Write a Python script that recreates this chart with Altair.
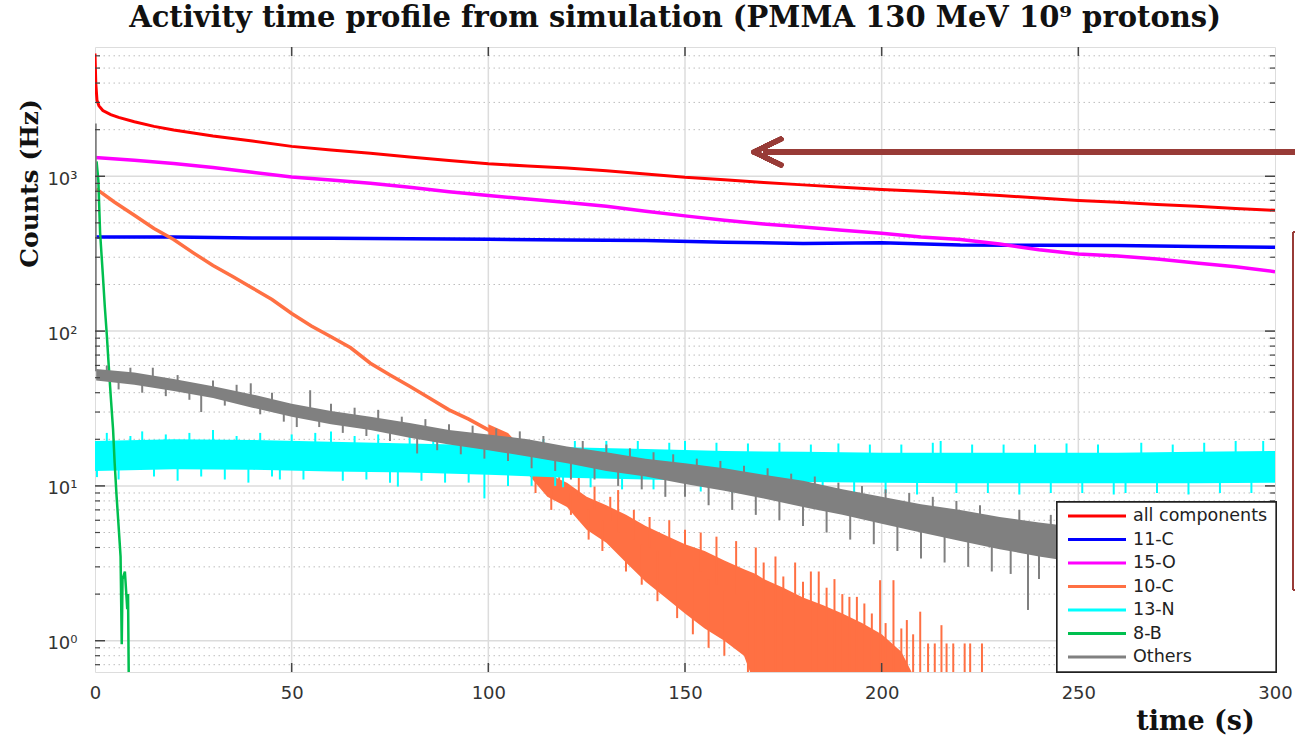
import altair as alt
import pandas as pd

# ---------------- data ----------------
# all components (red)
red_t = [0, 0.2, 0.5, 1, 2, 4, 6, 10, 15, 20, 30, 40, 50, 60, 70, 80, 90, 100, 110, 120,
         130, 140, 150, 160, 170, 180, 190, 200, 210, 220, 230, 240, 250, 260, 270, 280, 290, 300]
red_v = [6200, 4000, 3100, 2850, 2660, 2500, 2400, 2250, 2100, 1990, 1820, 1690, 1560, 1480, 1410,
         1330, 1265, 1205, 1165, 1130, 1085, 1035, 985, 950, 910, 880, 850, 820, 800, 778, 750,
         725, 698, 680, 658, 640, 620, 603]

# 11-C (blue)
blue_t = [0, 20, 40, 60, 80, 100, 120, 140, 160, 180, 200, 220, 240, 260, 280, 300]
blue_v = [405, 405, 400, 398, 395, 392, 388, 385, 375, 368, 372, 360, 358, 357, 352, 348]

# 15-O (magenta)
mag_t = [0, 10, 20, 30, 40, 50, 60, 70, 80, 90, 100, 110, 120, 130, 140, 150, 160, 170, 180,
         190, 200, 210, 220, 230, 240, 250, 260, 270, 280, 290, 300]
mag_v = [1320, 1270, 1210, 1140, 1060, 990, 945, 900, 850, 795, 752, 712, 678, 640, 595, 555,
         520, 492, 470, 448, 428, 405, 390, 365, 335, 315, 305, 292, 275, 260, 242]

# 10-C (orange): central trace, noise envelope of the tail, single spikes
ora_t = [0.3, 5, 10, 15, 20, 25, 30, 35, 40, 45, 50, 55, 60, 65, 70, 75, 80, 85, 90, 95, 100,
         105, 110, 115, 120, 125, 130, 135, 140, 145, 150]
ora_v = [830, 680, 560, 460, 390, 320, 265, 225, 190, 160, 130, 108, 92, 78, 62, 52, 44, 37,
         31, 27, 23, 19.5, 15, 11, 9.5, 7, 5.8, 4.8, 4.0, 3.5, 3.1]
ora_band_t = [100, 105, 110, 115, 120, 125, 130, 135, 140, 145, 150, 155, 160, 165, 168, 170,
              175, 180, 185, 190, 195, 200, 205, 208]
ora_band_lo = [21, 17, 12, 8.5, 7.3, 5.2, 4.3, 3.2, 2.4, 1.9, 1.5, 1.2, 1.0, 0.8, 0.5, 0.5,
               0.5, 0.5, 0.5, 0.5, 0.5, 0.5, 0.5, 0.5]
ora_band_hi = [25, 22, 16, 12, 10.5, 8.5, 7.5, 6.5, 5.5, 4.8, 4.2, 3.8, 3.3, 2.9, 2.7, 2.5,
               2.2, 1.9, 1.7, 1.5, 1.3, 1.1, 0.85, 0.6]
ora_spk_t = [110, 112, 114, 116, 118, 121, 123, 125.5, 127, 129, 131, 133, 135, 137, 139, 141,
             143, 146, 148, 150, 152, 154, 156, 158, 160, 163, 166, 168, 170, 173, 175, 178,
             180, 182, 184, 186, 188, 190, 191.8, 193.7, 195.6, 197.5, 199.6, 201, 203, 205,
             206.4, 208, 209.8, 211.8, 213.5, 215.2, 216.5, 218.2, 221.1, 222.5, 225.5]
ora_spk_base = [14, 12, 11, 10, 9.5, 9, 8.5, 7, 7, 6, 6, 5, 5, 4.5, 4.2, 4, 3.8, 3.5, 3.2, 3.1,
                3, 2.8, 2.5, 2.3, 2.1, 2, 1.8, 0.5, 0.5, 0.5, 0.5, 0.5, 0.5, 0.5, 0.5, 0.5,
                0.5, 0.5, 0.5, 0.5, 0.5, 0.5, 0.5, 0.5, 0.5, 0.5, 0.5, 0.5, 0.5, 0.5, 0.5,
                0.5, 0.5, 0.5, 0.5, 0.5, 0.5]
ora_spk_top = [18, 9, 14, 7, 12.5, 6.5, 11.5, 4.5, 9.9, 3.8, 8.5, 9.4, 2.8, 7, 2.3, 6.3, 1.8,
               6.0, 1.4, 5.2, 1.1, 5.0, 0.9, 4.7, 0.8, 4.4, 0.5, 4.0, 3.2, 3.5, 2.6, 3.2, 2.4,
               2.8, 2.8, 2.2, 2.5, 2.0, 1.92, 1.92, 1.74, 1.5, 2.46, 1.3, 2.46, 1.2, 1.36, 1.1,
               1.54, 0.96, 0.96, 1.26, 0.96, 0.96, 0.96, 0.96, 0.96]

# 13-N (cyan): noise envelope and single spikes
cyan_t = [0, 20, 40, 60, 80, 100, 120, 140, 160, 180, 200, 220, 240, 260, 280, 300]
cyan_lo = [12.5, 12.8, 12.7, 12.4, 12.2, 11.8, 11.3, 11.0, 10.7, 10.6, 10.5, 10.4, 10.4, 10.4, 10.4, 10.5]
cyan_hi = [19.5, 20, 19.8, 19.3, 18.8, 18.3, 17.8, 17.3, 16.8, 16.6, 16.4, 16.4, 16.4, 16.4, 16.6, 16.8]
cyan_spk_t = [0.5, 3, 6, 9, 12, 15, 18, 21, 24, 27, 30, 33, 36, 39, 42, 45, 47, 50, 53, 56, 60,
              63, 66, 69, 72, 75, 77, 80, 83, 86, 89, 92, 95, 99, 102, 105, 108, 111, 114, 117,
              119, 122, 126, 130, 134, 138, 142, 146, 150, 154, 158, 162, 166, 170, 174, 178,
              182, 185, 189, 193, 197, 201, 205, 209, 213, 215, 219, 223, 227, 231, 235, 239,
              243, 247, 251, 255, 259, 262, 266, 270, 274, 278, 282, 286, 290, 294, 297]
cyan_spk_b = [11.4, 22, 11, 21, 22.5, 11.5, 21.5, 10.8, 22, 11.5, 23, 11, 21, 10.5, 22, 11.5,
              11.0, 21.5, 11, 22, 22.5, 10.8, 21, 11, 21.5, 10.5, 9.9, 21, 10.8, 21.5, 10.5,
              20.5, 10.5, 8.3, 20.5, 10, 20, 10, 20, 10, 9.8, 19.5, 9.8, 19.5, 9.5, 19.5, 9.5,
              19, 19.5, 9.2, 19, 9, 18.8, 9, 19, 9, 18.5, 9.2, 18.8, 8.8, 18.5, 9, 18.5, 8.8,
              19, 19.5, 9, 18.5, 9, 18.5, 8.8, 18.5, 9, 18.8, 9, 18.5, 8.8, 9.0, 19, 9, 18.5,
              8.8, 19, 9, 19.5, 9, 19.5]

# 8-B (green)
green_t = [0.4, 0.85, 1.3, 2.0, 2.5, 3.0, 3.4, 4.0, 4.6, 5.0, 5.5, 6.0, 6.5, 6.8, 7.0, 7.6, 8.2, 8.4, 8.6]
green_v = [1250, 940, 430, 230, 143, 95, 65, 38, 23, 14, 8.5, 5.5, 3.5, 0.95, 2.5, 2.8, 1.6, 2.0, 0.5]

# Others (grey): envelope and single spikes (first spike = burst at t = 0)
grey_t = [0.3, 10, 20, 30, 40, 50, 60, 70, 80, 90, 100, 110, 120, 130, 140, 150, 160, 170,
          180, 190, 200, 210, 220, 230, 240, 250, 260, 270, 280, 290, 300]
grey_lo = [48, 45, 41, 37, 32, 28, 25, 23, 20.5, 18.5, 17, 15.5, 14, 12.5, 11.5, 10.3,
           9.3, 8.3, 7.3, 6.5, 5.7, 5.0, 4.4, 3.9, 3.5, 3.2, 3.1, 3.0, 2.9, 2.9, 2.8]
grey_hi = [57, 54, 49, 44, 39, 34, 30.5, 28, 25.5, 23, 21.5, 20, 18, 16.5, 15, 14, 13,
           11.8, 10.8, 9.5, 8.5, 7.6, 7.0, 6.3, 5.8, 5.4, 5.2, 5.1, 5.0, 4.9, 4.8]
grey_spk_t = [0.2, 3, 6, 9, 12, 14.7, 18, 21, 24, 27, 30, 33, 36, 39.6, 42, 45, 48, 51.3, 54.7, 57,
              60, 63, 66, 69, 72, 75, 78, 81.9, 84, 87, 90, 93, 96, 99, 102, 105, 108, 111, 114,
              117, 121, 124, 127, 130, 133, 136, 139, 142, 145, 147, 150, 153, 156, 159, 162,
              165, 168, 171, 174, 177, 180, 183, 186, 189, 192, 195, 198, 201, 204, 207, 210,
              213, 216, 219, 222, 225, 228, 232.8, 235, 237.2, 240, 243]
grey_spk_a = [55, 52, 50, 51, 48, 50, 46, 45, 43, 41, 41, 39, 38, 37, 35, 34, 32, 31, 31, 29, 28, 27,
              27, 26, 25, 24, 23.5, 22, 22, 21, 21, 20, 20, 19, 19, 18.5, 18, 17.5, 17, 16.5, 16,
              15.5, 15, 14.5, 14, 13.5, 13, 13, 12.5, 12, 12, 11.5, 11, 11, 10.5, 10, 10, 9.8,
              9.5, 9, 8.8, 8.5, 8, 7.7, 7.5, 7, 7, 6.8, 6.5, 6, 5.7, 5.5, 5.3, 5.2, 5, 5, 4.8,
              4.7, 4.6, 4.6, 4.3, 4.2]
grey_spk_b = [2190, 60, 42, 58, 40, 58, 38, 52, 36, 30, 48, 33, 45, 46, 29, 40, 26, 24, 41.5, 24, 34,
              22, 32, 21, 31, 19.5, 28, 16.2, 27, 17, 25, 16, 24.5, 15, 23.5, 14.5, 22.5, 13, 21,
              12.5, 11, 19.5, 11, 18.5, 10, 17.5, 9.5, 16.5, 8.5, 16, 8.5, 15, 7.5, 14.5, 7,
              13.5, 6.5, 13, 6, 12, 5.5, 11.5, 5, 10.5, 4.5, 10, 4.2, 9.5, 3.8, 9, 3.4, 8.5,
              3.2, 8, 3, 7.5, 2.8, 2.7, 7, 1.58, 2.5, 6.5]

# legend entries
series_names = ["all components", "11-C", "15-O", "10-C", "13-N", "8-B", "Others"]
series_colors = ["#ff0000", "#0000ff", "#ff00ff", "#ff7043", "#00ffff", "#00bf4f", "#808080"]

# axes / grid values
x_ticks = [0, 50, 100, 150, 200, 250, 300]
x_inner = [50, 100, 150, 200, 250]
y_major = [1, 10, 100, 1000]
y_minor = [0.7, 0.8, 0.9, 2, 3, 4, 5, 6, 7, 8, 9, 20, 30, 40, 50, 60, 70, 80, 90,
           200, 300, 400, 500, 600, 700, 800, 900, 2000, 3000, 4000, 5000, 6000]

# ---------------- chart ----------------
W, H = 1180, 625
xs = alt.Scale(domain=[0, 300], nice=False, zero=False)
ys = alt.Scale(type="log", domain=[0.628, 6840], nice=False)

xaxis = alt.Axis(values=x_ticks, title="time (s)", grid=False, ticks=False, domain=False,
                 labelFont="DejaVu Sans", labelFontSize=18, labelColor="#333333",
                 labelPadding=12, labelFlush=False,
                 titleFont="DejaVu Serif", titleFontWeight="bold", titleFontSize=27,
                 titleColor="#111111", titleX=1100, titleY=57, titleAlign="center",
                 titleBaseline="alphabetic")
yaxis = alt.Axis(values=y_major, title="Counts (Hz)", grid=False, ticks=False, domain=False,
                 labelExpr="datum.value == 1 ? '10⁰' : datum.value == 10 ? '10¹' : datum.value == 100 ? '10²' : '10³'",
                 labelFont="DejaVu Sans", labelFontSize=18, labelColor="#333333",
                 labelPadding=18, labelOffset=3,
                 titleFont="DejaVu Serif", titleFontWeight="bold", titleFontSize=25,
                 titleColor="#111111", titleAngle=270, titleX=-66, titleY=136,
                 titleAlign="center", titleBaseline="middle")


def X():
    return alt.X("t:Q", scale=xs, axis=xaxis)


def Y():
    return alt.Y("v:Q", scale=ys, axis=yaxis)


def line_df(ts, vs):
    return pd.DataFrame({"t": ts, "v": vs})


def band_df(ts, lo, hi):
    return pd.DataFrame({"t": ts, "v": lo, "v2": hi})


# grid
minor_grid = alt.Chart(pd.DataFrame({"v": y_minor})).mark_rule(
    color="#bdbdbd", strokeWidth=1, strokeDash=[1.5, 3.5]).encode(y=Y())
major_grid = alt.Chart(pd.DataFrame({"v": y_major})).mark_rule(
    color="#dcdcdc", strokeWidth=1.5).encode(y=Y())
x_grid = alt.Chart(pd.DataFrame({"t": x_inner})).mark_rule(
    color="#dcdcdc", strokeWidth=1.5).encode(x=X(), y=alt.value(0), y2=alt.value(H))

# series
red = alt.Chart(line_df(red_t, red_v)).mark_line(color="#ff0000", strokeWidth=3, clip=True).encode(x=X(), y=Y())
blue = alt.Chart(line_df(blue_t, blue_v)).mark_line(color="#0000ff", strokeWidth=3.5, clip=True).encode(x=X(), y=Y())
mag = alt.Chart(line_df(mag_t, mag_v)).mark_line(color="#ff00ff", strokeWidth=3.5, clip=True).encode(x=X(), y=Y())

ora_line = alt.Chart(line_df(ora_t, ora_v)).mark_line(color="#ff7043", strokeWidth=3.5, clip=True).encode(x=X(), y=Y())
ora_band = alt.Chart(band_df(ora_band_t, ora_band_lo, ora_band_hi)).mark_area(
    color="#ff7043", opacity=1, clip=True).encode(x=X(), y=Y(), y2="v2:Q")
ora_spk = alt.Chart(band_df(ora_spk_t, ora_spk_base, ora_spk_top)).mark_rule(
    color="#ff7043", strokeWidth=2, clip=True).encode(x=X(), y=Y(), y2="v2:Q")

cyan_band = alt.Chart(band_df(cyan_t, cyan_lo, cyan_hi)).mark_area(
    color="#00ffff", opacity=1, clip=True).encode(x=X(), y=Y(), y2="v2:Q")
cyan_spk = alt.Chart(band_df(cyan_spk_t, [15 if t < 150 else 13 for t in cyan_spk_t], cyan_spk_b)).mark_rule(
    color="#00ffff", strokeWidth=2, clip=True).encode(x=X(), y=Y(), y2="v2:Q")

green = alt.Chart(line_df(green_t, green_v)).mark_line(color="#00bf4f", strokeWidth=2.5, clip=True).encode(x=X(), y=Y())

grey_band = alt.Chart(band_df(grey_t, grey_lo, grey_hi)).mark_area(
    color="#808080", opacity=1, clip=True).encode(x=X(), y=Y(), y2="v2:Q")
grey_spk = alt.Chart(band_df(grey_spk_t, grey_spk_a, grey_spk_b)).mark_rule(
    color="#808080", strokeWidth=2, clip=True).encode(x=X(), y=Y(), y2="v2:Q")

# inward ticks (left, right, bottom, top)
tick_col = "#444444"
yl_major = alt.Chart(pd.DataFrame({"v": y_major})).mark_rule(color=tick_col, strokeWidth=1.5).encode(
    y=Y(), x=alt.value(0), x2=alt.value(10))
yl_minor = alt.Chart(pd.DataFrame({"v": y_minor})).mark_rule(color=tick_col, strokeWidth=1.2).encode(
    y=Y(), x=alt.value(0), x2=alt.value(5))
yr_major = alt.Chart(pd.DataFrame({"v": y_major})).mark_rule(color=tick_col, strokeWidth=1.5).encode(
    y=Y(), x=alt.value(W - 10), x2=alt.value(W))
yr_minor = alt.Chart(pd.DataFrame({"v": y_minor})).mark_rule(color=tick_col, strokeWidth=1.2).encode(
    y=Y(), x=alt.value(W - 5), x2=alt.value(W))
xb = alt.Chart(pd.DataFrame({"t": x_inner})).mark_rule(color=tick_col, strokeWidth=1.5).encode(
    x=X(), y=alt.value(H - 9), y2=alt.value(H))
xt = alt.Chart(pd.DataFrame({"t": x_inner})).mark_rule(color=tick_col, strokeWidth=1.5).encode(
    x=X(), y=alt.value(0), y2=alt.value(9))

# legend (drawn inside the plot, bottom right)
leg_df = pd.DataFrame({"name": series_names, "col": series_colors,
                       "py": [469 + 23.5 * i for i in range(len(series_names))]})
leg_box = alt.Chart(leg_df).mark_rect(fill="white", stroke="#222222", strokeWidth=1.3).encode(
    x=alt.value(962), x2=alt.value(W + 1), y=alt.value(455), y2=alt.value(H))
leg_lines = alt.Chart(leg_df).mark_rule(strokeWidth=3).encode(
    x=alt.value(973), x2=alt.value(1031), y=alt.Y("py:Q", scale=None),
    color=alt.Color("col:N", scale=None))
leg_text = alt.Chart(leg_df).mark_text(align="left", baseline="middle", font="DejaVu Sans",
                                       fontSize=17.5, color="#222222").encode(
    x=alt.value(1038), y=alt.Y("py:Q", scale=None), text="name:N")

# annotations: arrow and partial box on the right edge
anno = "#983b37"
arrow_shaft = alt.Chart(leg_df).mark_rule(color=anno, strokeWidth=5).encode(
    x=alt.value(668), x2=alt.value(1215), y=alt.value(105))
arrow_up = alt.Chart(leg_df).mark_rule(color=anno, strokeWidth=5, strokeCap="round").encode(
    x=alt.value(659), x2=alt.value(686), y=alt.value(105), y2=alt.value(92))
arrow_dn = alt.Chart(leg_df).mark_rule(color=anno, strokeWidth=5, strokeCap="round").encode(
    x=alt.value(659), x2=alt.value(686), y=alt.value(105), y2=alt.value(118))
box_v = alt.Chart(leg_df).mark_rule(color=anno, strokeWidth=2).encode(
    x=alt.value(1198), y=alt.value(185), y2=alt.value(543))
box_t = alt.Chart(leg_df).mark_rule(color=anno, strokeWidth=2).encode(
    x=alt.value(1198), x2=alt.value(1215), y=alt.value(185))
box_b = alt.Chart(leg_df).mark_rule(color=anno, strokeWidth=2).encode(
    x=alt.value(1198), x2=alt.value(1215), y=alt.value(543))

chart = alt.layer(
    minor_grid, major_grid, x_grid,
    red, blue, mag,
    ora_line, ora_band, ora_spk,
    cyan_band, cyan_spk,
    green,
    grey_band, grey_spk,
    yl_major, yl_minor, yr_major, yr_minor, xb, xt,
    leg_box, leg_lines, leg_text,
    arrow_shaft, arrow_up, arrow_dn, box_v, box_t, box_b,
).properties(
    width=W, height=H,
    title=alt.TitleParams("Activity time profile from simulation (PMMA 130 MeV 10⁹ protons)",
                          font="DejaVu Serif", fontWeight="bold", fontSize=29, color="#111111",
                          anchor="middle", frame="group", dx=-10, offset=-10,
                          baseline="alphabetic"),
    autosize=alt.AutoSizeParams(type="none"),
    padding={"left": 95, "top": 47, "right": 20, "bottom": 67},
).configure_view(stroke="#3a3a3a", strokeWidth=1.5).configure(background="white")

chart.save("out.html", embed_options={"renderer": "svg", "actions": False})
